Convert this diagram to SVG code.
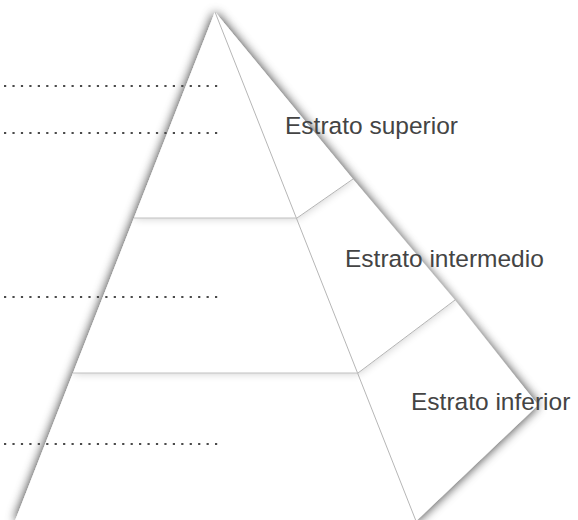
<svg xmlns="http://www.w3.org/2000/svg" width="578" height="520" viewBox="0 0 578 520">
  <defs>
    <filter id="sh" x="-30%" y="-30%" width="160%" height="160%">
      <feGaussianBlur in="SourceAlpha" stdDeviation="6"/>
      <feComponentTransfer><feFuncA type="linear" slope="0.7"/></feComponentTransfer>
      <feMerge><feMergeNode/><feMergeNode in="SourceGraphic"/></feMerge>
    </filter>
    <filter id="shl" x="-30%" y="-30%" width="160%" height="160%">
      <feGaussianBlur in="SourceAlpha" stdDeviation="5"/>
      <feComponentTransfer><feFuncA type="linear" slope="0.22"/></feComponentTransfer>
      <feMerge><feMergeNode/><feMergeNode in="SourceGraphic"/></feMerge>
    </filter>
    <style>
      .face { fill: #ffffff; }
      .edge { fill: none; stroke: #a3a3a3; stroke-width: 0.8; }
      .sep { fill: none; stroke: #c2c2c2; stroke-width: 1.2; }
      .dots { stroke: #4a4a4a; stroke-width: 2.2; stroke-dasharray: 2.2 6.24; }
      .lbl { font-family: "Liberation Sans", Arial, Helvetica, sans-serif; font-size: 24.5px; fill: #444444; }
    </style>
  </defs>
  <rect width="578" height="520" fill="#ffffff"/>

  <g id="pyramid">
    <g id="silhouette" filter="url(#sh)">
      <polygon class="face" points="215,12 538,405 416,521 15,521"/>
    </g>
    <g id="layer-bottom" filter="url(#shl)">
      <polygon class="face" points="73,373 358,373 455,300 538,405 416,521 15,521"/>
    </g>
    <g id="layer-middle" filter="url(#shl)">
      <polygon class="face" points="134,218 297,218 353,179 455,300 358,373 73,373"/>
    </g>
    <g id="layer-top" filter="url(#shl)">
      <polygon class="face" points="215,12 353,179 297,218 134,218"/>
    </g>
  </g>

  <g id="connectors">
    <line class="edge" x1="215" y1="12" x2="416" y2="521"/>
    <line class="sep" x1="134" y1="218" x2="297" y2="218"/>
    <line class="sep" x1="73" y1="373" x2="358" y2="373"/>
    <line class="edge" x1="297" y1="218" x2="353" y2="179"/>
    <line class="edge" x1="358" y1="373" x2="455" y2="300"/>
  </g>

  <g id="blanks">
    <line class="dots" x1="4" y1="86" x2="218" y2="86"/>
    <line class="dots" x1="4" y1="133" x2="218" y2="133"/>
    <line class="dots" x1="4" y1="297" x2="218" y2="297"/>
    <line class="dots" x1="4" y1="444" x2="218" y2="444"/>
  </g>

  <g id="label-superior"><text class="lbl" x="285" y="134">Estrato superior</text></g>
  <g id="label-intermedio"><text class="lbl" x="345" y="267">Estrato intermedio</text></g>
  <g id="label-inferior"><text class="lbl" x="411" y="410">Estrato inferior</text></g>
</svg>
